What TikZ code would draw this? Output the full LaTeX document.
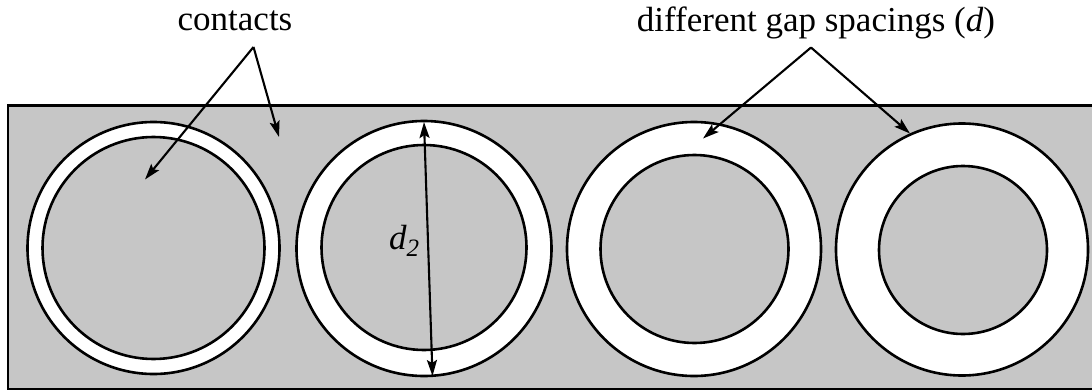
\documentclass[tikz,border=0pt]{standalone}
\usepackage{fontspec}
\setmainfont{Liberation Serif}
\usetikzlibrary{arrows.meta}
\definecolor{bggray}{RGB}{198,198,198}
\begin{document}
\begin{tikzpicture}[x=1pt,y=-1pt,
  ringout/.style={circle, draw=black, line width=2.6pt, fill=white, inner sep=0pt, outer sep=0pt},
  ringin/.style={circle, draw=black, line width=2.6pt, fill=bggray, inner sep=0pt, outer sep=0pt},
  tip/.tip={Stealth[length=16pt,width=10pt,inset=3pt]},
  pointer/.style={line width=2.1pt, -tip},
  dimline/.style={line width=2.1pt, tip-tip},
  titletext/.style={font=\fontsize{35}{42}\selectfont, inner sep=0pt}
]
\useasboundingbox (0,0) rectangle (1092,391);
\fill[bggray] (8,105.5) rectangle (1092,389);
\draw[line width=2.3pt] (1092,105.5) -- (8,105.5) -- (8,389) -- (1092,389);

\node[ringout, minimum size=252pt] (o1) at (153.5,248) {};
\node[ringin,  minimum size=222pt] (i1) at (153.5,248) {};
\node[ringout, minimum size=255pt] (o2) at (424,248.5) {};
\node[ringin,  minimum size=205pt] (i2) at (424,247.5) {};
\node[ringout, minimum size=254pt] (o3) at (694,249) {};
\node[ringin,  minimum size=188pt] (i3) at (694.5,249) {};
\node[ringout, minimum size=252pt] (o4) at (962,249.5) {};
\node[ringin,  minimum size=168pt] (i4) at (963,250) {};

\node[titletext, anchor=base] (contacts) at (235,30) {contacts};
\node[titletext, anchor=base] (gap) at (816,31) {different gap spacings (\textit{d})};

\coordinate (capex) at (253.5,47);
\coordinate (gapex) at (811,47.5);
\coordinate (t1) at (145,179.5);
\coordinate (t2) at (279,137);
\coordinate (t3) at (703,138.5);
\coordinate (t4) at (910,133.5);
\draw[pointer] (capex) -- (t1);
\draw[pointer] (capex) -- (t2);
\draw[pointer] (gapex) -- (t3);
\draw[pointer] (gapex) -- (t4);

\coordinate (dtop) at (424,122);
\coordinate (dbot) at (432.5,376);
\draw[dimline] (dtop) -- (dbot);
\node[inner sep=0pt, anchor=base west, font=\fontsize{35}{42}\selectfont\itshape] (d2) at (389,249) {d\raisebox{-7pt}{\fontsize{25}{25}\selectfont 2}};
\end{tikzpicture}
\end{document}
